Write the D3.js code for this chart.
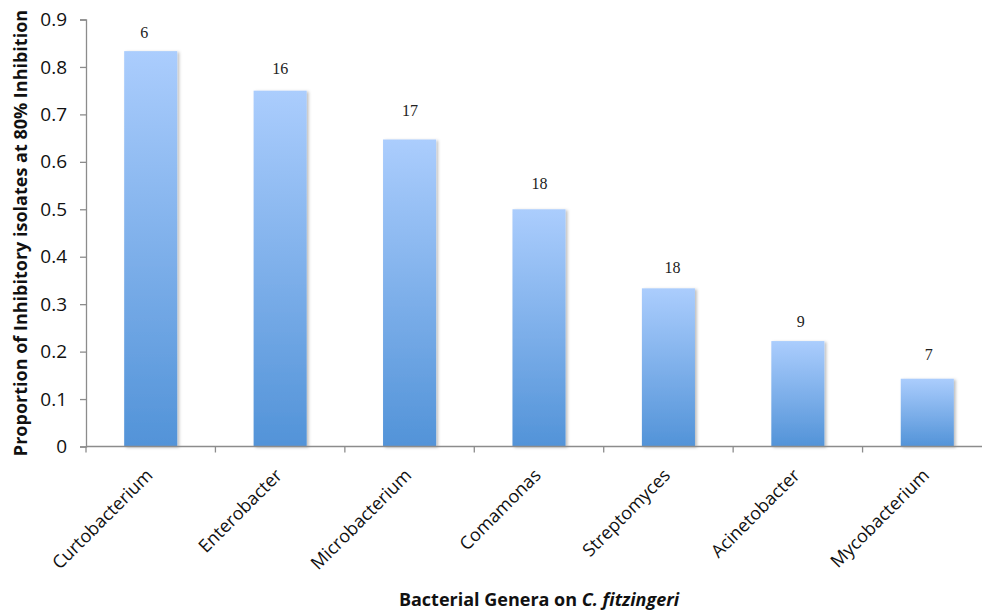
<!DOCTYPE html>
<html>
<head>
<meta charset="utf-8">
<script src="https://cdn.jsdelivr.net/npm/d3@7"></script>
<style>
  html, body { margin: 0; padding: 0; background: #fff; }
  svg { display: block; }
</style>
</head>
<body>
<svg id="chart" width="982" height="611"></svg>
<script>
// Genera, their proportion of inhibitory isolates, and the isolate count shown above each bar
const genera = ["Curtobacterium", "Enterobacter", "Microbacterium", "Comamonas", "Streptomyces", "Acinetobacter", "Mycobacterium"];
const proportions = [5/6, 12/16, 11/17, 9/18, 6/18, 2/9, 1/7];
const isolateCounts = [6, 16, 17, 18, 18, 9, 7];
const yTicks = [0, 0.1, 0.2, 0.3, 0.4, 0.5, 0.6, 0.7, 0.8, 0.9];

// Hand-placed count labels: horizontal nudge and lift above the bar top (px)
const countNudgeX = [-6.5, 0, 0.5, 0.5, 4, 3, 1.5];
const countLift = [12.7, 16.7, 24, 20, 15, 14, 19];

const svg = d3.select("#chart");
const plotLeft = 86, plotRight = 992, plotTop = 19.5, plotBottom = 446.5;

const x = d3.scaleBand().domain(genera).range([plotLeft, plotRight]).paddingInner(0).paddingOuter(0);
const y = d3.scaleLinear().domain([0, 0.9]).range([plotBottom, plotTop]);

const defs = svg.append("defs");
const grad = defs.append("linearGradient").attr("id", "barGrad")
  .attr("x1", 0).attr("y1", 0).attr("x2", 0).attr("y2", 1);
grad.append("stop").attr("offset", "0%").attr("stop-color", "#abcdfd");
grad.append("stop").attr("offset", "100%").attr("stop-color", "#5293d8");

const shadow = defs.append("filter").attr("id", "barShadow")
  .attr("x", "-20%").attr("y", "-5%").attr("width", "150%").attr("height", "110%");
shadow.append("feDropShadow").attr("dx", 2).attr("dy", 1).attr("stdDeviation", 1.5)
  .attr("flood-color", "#000").attr("flood-opacity", 0.25);

const axisColor = "#8c8c8c";
const tickFont = "'Open Sans', 'Liberation Sans', sans-serif";

// Y axis
const yAxis = svg.append("g").attr("transform", `translate(${plotLeft},0)`)
  .call(d3.axisLeft(y).tickValues(yTicks).tickSize(6).tickPadding(13)
    .tickFormat(d => d === 0 ? "0" : d3.format(".1f")(d)));
yAxis.select(".domain").attr("stroke", axisColor).attr("stroke-width", 1.3);
yAxis.selectAll(".tick line").attr("stroke", axisColor).attr("stroke-width", 1.3);
yAxis.selectAll(".tick text").attr("font-family", tickFont).attr("font-size", 19)
  .attr("fill", "#111");

// Bars
const barW = x.bandwidth() * 0.41;
svg.append("g").selectAll("rect").data(genera).join("rect")
  .attr("x", d => x(d) + (x.bandwidth() - barW) / 2)
  .attr("width", barW)
  .attr("y", (d, i) => y(proportions[i]))
  .attr("height", (d, i) => y(0) - y(proportions[i]))
  .attr("fill", "url(#barGrad)")
  .attr("filter", "url(#barShadow)");

// Isolate counts above bars
svg.append("g").selectAll("text").data(genera).join("text")
  .attr("x", (d, i) => x(d) + x.bandwidth() / 2 + countNudgeX[i])
  .attr("y", (d, i) => y(proportions[i]) - countLift[i])
  .attr("text-anchor", "middle")
  .attr("font-family", "'Liberation Serif', 'Times New Roman', serif")
  .attr("font-size", 16)
  .attr("fill", "#222")
  .text((d, i) => isolateCounts[i]);

// X axis line and category boundary ticks
const xAxisG = svg.append("g");
xAxisG.append("line").attr("x1", plotLeft).attr("x2", plotRight).attr("y1", plotBottom).attr("y2", plotBottom)
  .attr("stroke", axisColor).attr("stroke-width", 1.3);
const bounds = genera.map(d => x(d)).concat([plotRight]);
xAxisG.selectAll("line.tk").data(bounds).join("line").attr("class", "tk")
  .attr("x1", d => d).attr("x2", d => d).attr("y1", plotBottom).attr("y2", plotBottom + 6)
  .attr("stroke", axisColor).attr("stroke-width", 1.3);

// Rotated category labels
xAxisG.selectAll("text").data(genera).join("text")
  .attr("transform", d => `translate(${x(d) + x.bandwidth() / 2 + 3},${plotBottom + 30}) rotate(-45)`)
  .attr("text-anchor", "end")
  .attr("font-family", tickFont)
  .attr("font-size", 18)
  .attr("fill", "#111")
  .text(d => d);

// Axis titles
svg.append("text")
  .attr("transform", `translate(27,${(plotTop + plotBottom) / 2}) rotate(-90)`)
  .attr("text-anchor", "middle")
  .attr("font-family", tickFont)
  .attr("font-weight", "bold")
  .attr("font-size", 18)
  .attr("fill", "#111")
  .text("Proportion of Inhibitory isolates at 80% Inhibition");

const xt = svg.append("text")
  .attr("x", 539).attr("y", 606)
  .attr("text-anchor", "middle")
  .attr("font-family", tickFont)
  .attr("font-weight", "bold")
  .attr("font-size", 18)
  .attr("fill", "#111");
xt.append("tspan").text("Bacterial Genera on ");
xt.append("tspan").attr("font-style", "italic").text("C. fitzingeri");
</script>
</body>
</html>
